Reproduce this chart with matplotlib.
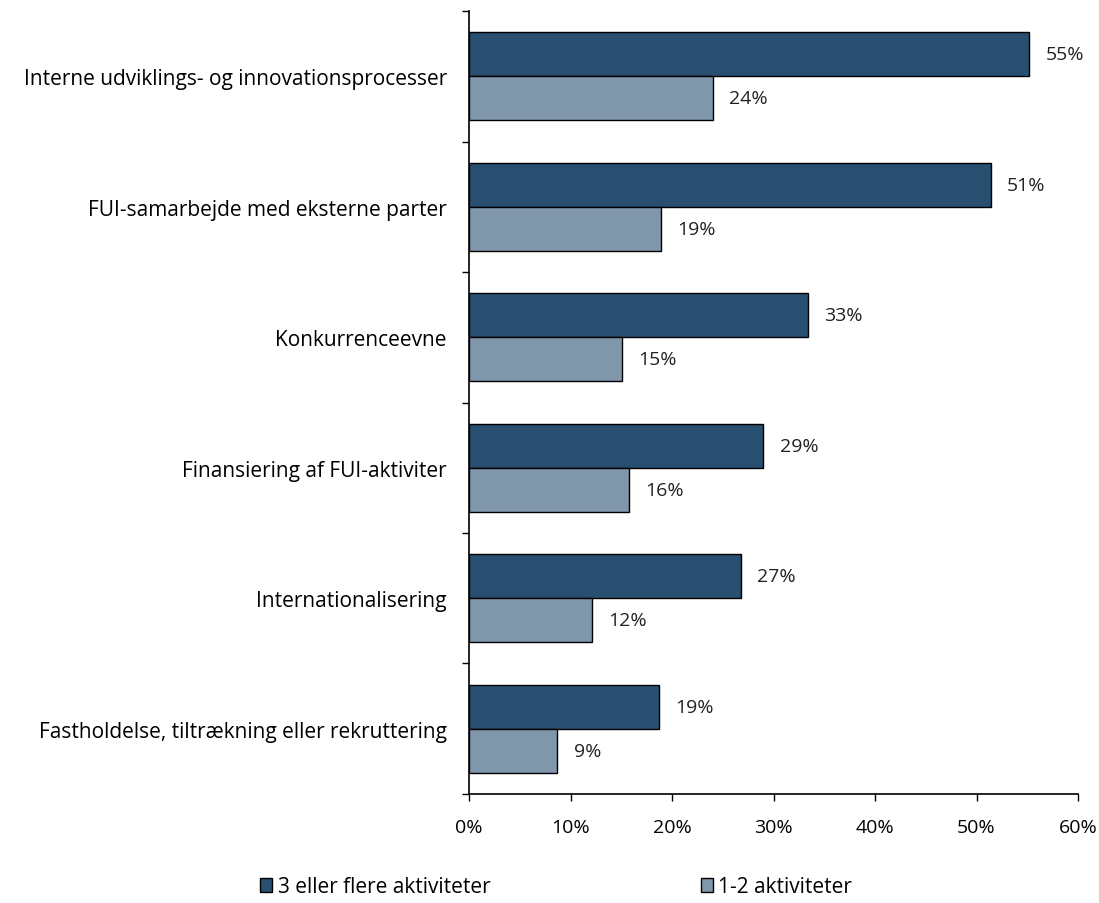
import matplotlib.pyplot as plt
import numpy as np

categories = ["Interne udviklings- og innovationsprocesser",
              "FUI-samarbejde med eksterne parter",
              "Konkurrenceevne",
              "Finansiering af FUI-aktiviter",
              "Internationalisering",
              "Fastholdelse, tiltrækning eller rekruttering"]
many = [55.2, 51.4, 33.4, 29.0, 26.8, 18.7]   # 3 eller flere aktiviteter
few = [24.0, 18.9, 15.1, 15.8, 12.1, 8.7]     # 1-2 aktiviteter
series_names = ["3 eller flere aktiviteter", "1-2 aktiviteter"]
xticks = [0, 10, 20, 30, 40, 50, 60]

plt.rcParams['font.family'] = ['Open Sans', 'DejaVu Sans']
plt.rcParams['font.size'] = 14.5

fig = plt.figure(figsize=(10.99, 9.04), dpi=100)
ax = fig.add_axes([0.4268, 0.1206, 0.5541, 0.8661])

y = np.arange(len(categories))
h = 0.337
dark, light = "#284f70", "#8096aa"
b1 = ax.barh(y - h/2, many, height=h, color=dark, edgecolor="black", linewidth=1, label=series_names[0])
b2 = ax.barh(y + h/2, few, height=h, color=light, edgecolor="black", linewidth=1, label=series_names[1])

for bars, vals in ((b1, many), (b2, few)):
    for r, v in zip(bars, vals):
        ax.text(v + 1.6, r.get_y() + r.get_height()/2, f"{round(v)}%",
                va="center", ha="left", color="#222222", fontsize=14)

ax.set_ylim(len(categories) - 0.5, -0.5)
ax.set_xlim(0, 60)
ax.set_xticks(xticks)
ax.set_xticklabels([f"{t}%" for t in xticks])
ax.set_yticks(y)
ax.set_yticklabels(categories, fontsize=15)
ax.set_yticks(np.arange(-0.5, len(categories)), minor=True)
ax.tick_params(axis="y", which="major", length=0, pad=16)
ax.tick_params(axis="y", which="minor", length=5, width=1)
ax.tick_params(axis="x", length=5, width=1, pad=12, labelsize=14)
for s in ("top", "right"):
    ax.spines[s].set_visible(False)
for s in ("left", "bottom"):
    ax.spines[s].set_linewidth(1.2)

fig.legend(handles=[b1, b2], loc="center", bbox_to_anchor=(0.506, 0.018), ncol=2,
           frameon=False, columnspacing=10.1, handlelength=0.6, handleheight=0.7,
           handletextpad=0.25, fontsize=15)

fig.savefig("out.png", dpi=100)
